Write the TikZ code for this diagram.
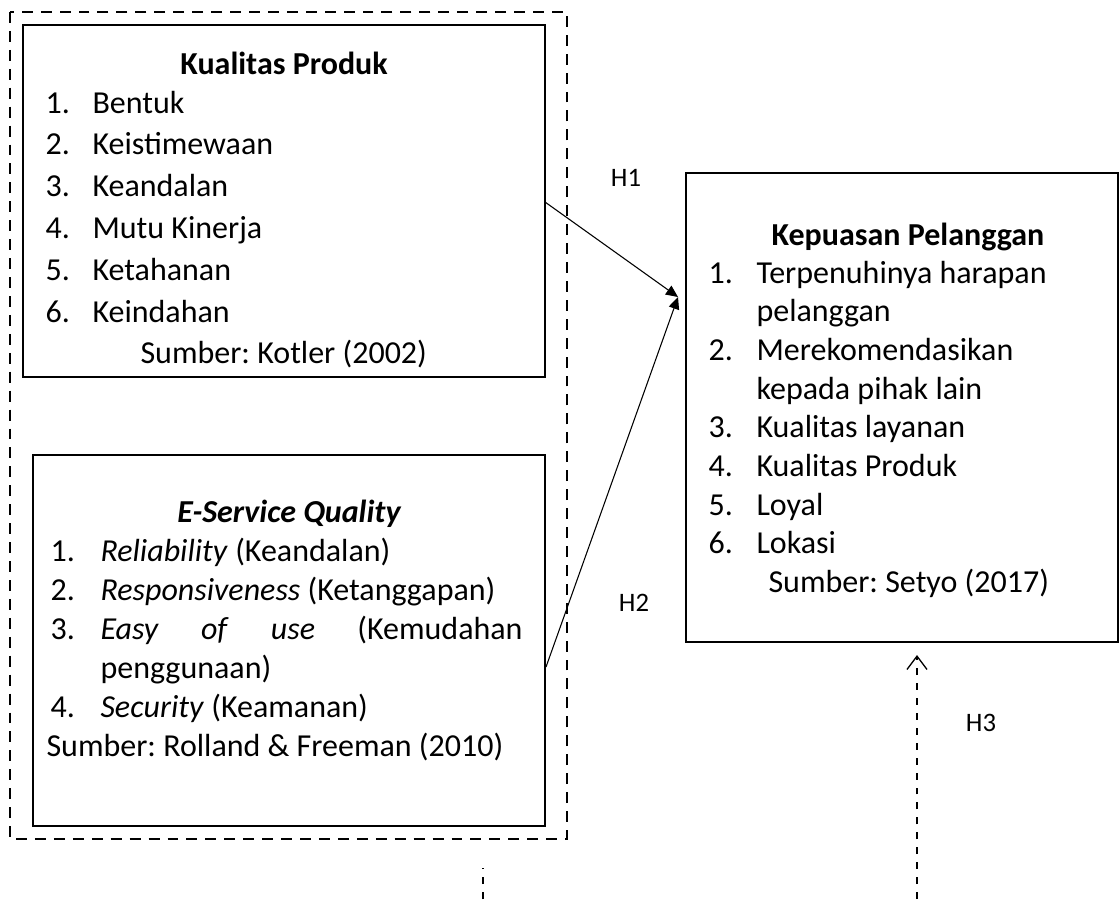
\documentclass[tikz,border=0pt]{standalone}
\usepackage{fontspec}
\setmainfont{Carlito}
\usetikzlibrary{arrows.meta,fit}

\tikzset{
  box/.style={draw, line width=1.1pt, inner sep=0pt},
  txt/.style={anchor=base west, inner sep=0pt, font=\fontsize{12}{14.5}\selectfont\frenchspacing},
  head/.style={anchor=base, inner sep=0pt, font=\fontsize{12}{14.5}\selectfont\bfseries},
  hyp/.style={inner sep=0pt, font=\fontsize{10}{12}\selectfont},
  link/.style={line width=0.4pt, -{Triangle[length=4.5pt,width=4pt]}},
  dlink/.style={line width=0.6pt, dash pattern=on 2.6pt off 3pt},
}

\begin{document}
\begin{tikzpicture}[x=0.375pt,y=-0.375pt]
  \useasboundingbox (0,0) rectangle (1119,899);

  % outer dashed frame round the two independent variables
  \draw[line width=0.85pt, dash pattern=on 4.1pt off 3pt] (10,12) rectangle (567,839);

  % boxes
  \node[box, fit={(23,25) (545,377)}] (kualitas) {};
  \node[box, fit={(33,455) (545,826)}] (eservice) {};
  \node[box, fit={(686,173) (1118,642)}] (kepuasan) {};

  % Kualitas Produk
  \node[head] (kualitas-h) at (284,74) {Kualitas Produk};
  \foreach \t [count=\i] in {Bentuk, Keistimewaan, Keandalan, Mutu Kinerja, Ketahanan, Keindahan} {
    \node[txt] (kualitas-n\i) at (45,71.2+41.8*\i) {\i.};
    \node[txt] (kualitas-t\i) at (92,71.2+41.8*\i) {\t};
  }
  \node[txt] (kualitas-s) at (140,363) {Sumber: Kotler (2002)};

  % E-Service Quality
  \node[head, font=\fontsize{12}{14.5}\selectfont\bfseries\itshape] (eservice-h) at (289,522) {E-Service Quality};
  \node[txt] (eservice-n1) at (50,561) {1.};
  \node[txt] (eservice-t1) at (100,561) {\textit{Reliability} (Keandalan)};
  \node[txt] (eservice-n2) at (50,600) {2.};
  \node[txt] (eservice-t2) at (100,600) {\textit{Responsiveness} (Ketanggapan)};
  \node[txt] (eservice-n3) at (50,639) {3.};
  \node[txt] (eservice-t3) at (100,639) {\makebox[158.25pt][l]{\textit{Easy}\hfill\textit{of}\hfill\textit{use}\hfill(Kemudahan}};
  \node[txt] (eservice-t3b) at (100,678) {penggunaan)};
  \node[txt] (eservice-n4) at (50,717) {4.};
  \node[txt] (eservice-t4) at (100,717) {\textit{Security} (Keamanan)};
  \node[txt] (eservice-s) at (46,756) {Sumber: Rolland \& Freeman (2010)};

  % Kepuasan Pelanggan
  \node[head] (kepuasan-h) at (908,245) {Kepuasan Pelanggan};
  \node[txt] (kepuasan-n1) at (708,283) {1.};
  \node[txt] (kepuasan-t1) at (756,283) {Terpenuhinya harapan};
  \node[txt] (kepuasan-t1b) at (756,321.7) {pelanggan};
  \node[txt] (kepuasan-n2) at (708,360.4) {2.};
  \node[txt] (kepuasan-t2) at (756,360.4) {Merekomendasikan};
  \node[txt] (kepuasan-t2b) at (756,399.1) {kepada pihak lain};
  \foreach \t [count=\i from 3] in {Kualitas layanan, Kualitas Produk, Loyal, Lokasi} {
    \node[txt] (kepuasan-n\i) at (708,437.8+38.7*\i-116.1) {\i.};
    \node[txt] (kepuasan-t\i) at (756,437.8+38.7*\i-116.1) {\t};
  }
  \node[txt] (kepuasan-s) at (768,592.6) {Sumber: Setyo (2017)};

  % hypothesis labels
  \node[hyp] (h1) at (626,178) {H1};
  \node[hyp] (h2) at (634,603) {H2};
  \node[hyp] (h3) at (981,723) {H3};

  % connectors
  \coordinate (h1-from) at (545,202);
  \coordinate (h2-from) at (546,667);
  \coordinate (h-to) at (678,297);
  \coordinate (h3-from) at (917,899);
  \coordinate (h3-to) at (917,655);
  \coordinate (dm-from) at (483,899);
  \coordinate (dm-to) at (483,868);
  \draw[link] (h1-from) -- (h-to);
  \draw[link] (h2-from) -- (h-to);
  \draw[dlink, -{Straight Barb[length=5pt,width=7.5pt,line width=0.5pt]}] (h3-from) -- (h3-to);
  \draw[dlink] (dm-from) -- (dm-to);
\end{tikzpicture}
\end{document}
